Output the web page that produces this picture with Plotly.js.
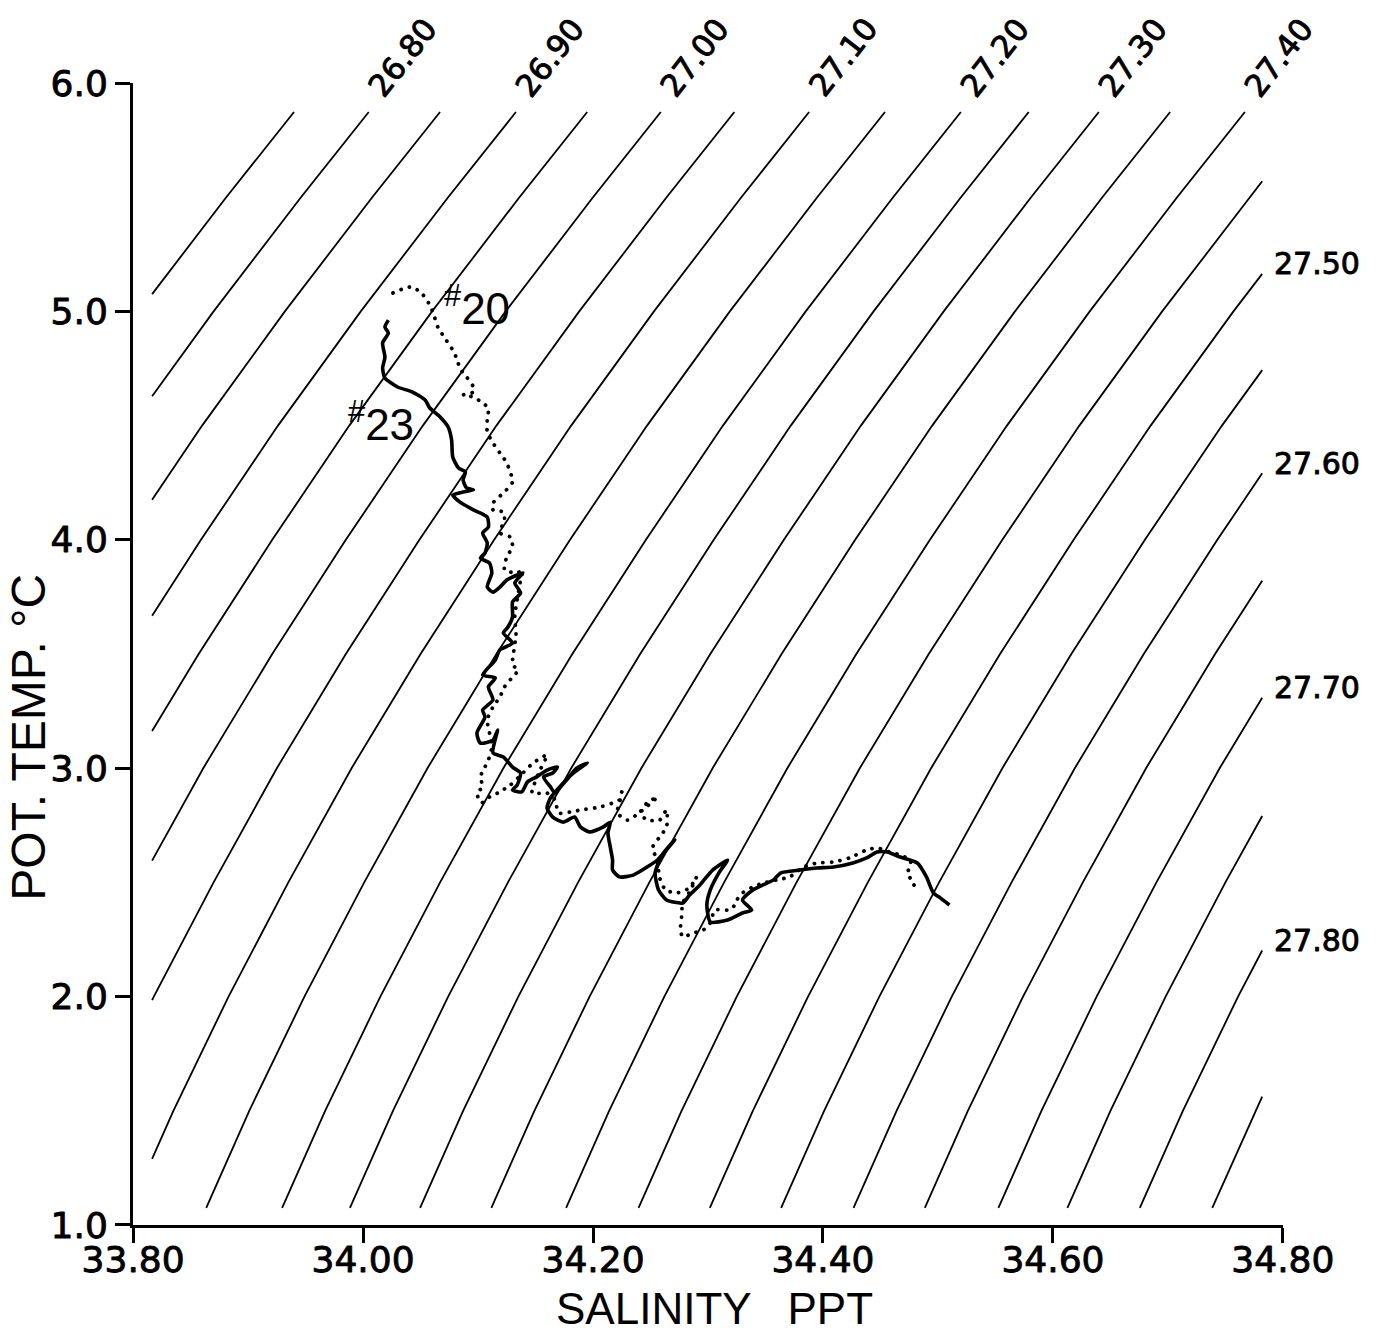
<!DOCTYPE html>
<html><head><meta charset="utf-8">
<script src="https://cdn.plot.ly/plotly-3.0.1.min.js"></script>
<style>html,body{margin:0;padding:0;background:#fff}</style>
</head><body>
<div id="chart" style="width:1382px;height:1343px"></div>
<script>
// ---------- axis ticks ----------
const salTicks = [33.8, 34.0, 34.2, 34.4, 34.6, 34.8];
const salTickText = ['33.80', '34.00', '34.20', '34.40', '34.60', '34.80'];
const tempTicks = [1, 2, 3, 4, 5, 6];
const tempTickText = ['1.0', '2.0', '3.0', '4.0', '5.0', '6.0'];

// ---------- isopycnals (sigma-theta) ----------
const isoSigma = [26.75, 26.80, 26.85, 26.90, 26.95, 27.00, 27.05, 27.10, 27.15, 27.20, 27.25, 27.30,
                  27.35, 27.40, 27.45, 27.50, 27.55, 27.60, 27.65, 27.70, 27.75, 27.80, 27.85];
// salinity where each isopycnal would cross 1.0 degC
const isoSalAt1C = [33.343, 33.408, 33.470, 33.536, 33.598, 33.662, 33.726, 33.791, 33.857, 33.923, 33.982, 34.043,
                    34.105, 34.170, 34.233, 34.295, 34.357, 34.420, 34.482, 34.546, 34.606, 34.669, 34.732];
// common curvature of the isopycnals: salinity offset along a line vs temperature
const isoShapeTemp = [1.0, 1.5, 2.0, 2.5, 3.0, 3.5, 4.0, 4.5, 5.0, 5.5, 6.0];
const isoShapeDSal = [0, 0.044, 0.092, 0.144, 0.199, 0.259, 0.323, 0.390, 0.462, 0.538, 0.617];
const isoTopLabels = ['26.80', '26.90', '27.00', '27.10', '27.20', '27.30', '27.40'];
const isoRightLabels = ['27.50', '27.60', '27.70', '27.80'];

// ---------- station #20 (dotted) ----------
const st20Sal = [34.026,34.041,34.050,34.057,34.061,34.065,34.071,34.078,34.082,34.084,
  34.090,34.096,34.096,34.087,34.096,34.104,34.109,34.108,34.108,34.113,
  34.119,34.125,34.130,34.122,34.113,34.113,34.122,34.123,34.119,34.128,
  34.130,34.125,34.123,34.134,34.139,34.137,34.134,34.132,34.133,34.131,
  34.130,34.135,34.130,34.123,34.119,34.113,34.108,34.110,34.112,34.109,
  34.106,34.102,34.104,34.099,34.103,34.110,34.117,34.128,34.139,34.148,
  34.160,34.154,34.147,34.160,34.167,34.170,34.180,34.189,34.206,34.223,
  34.225,34.223,34.221,34.230,34.241,34.256,34.247,34.241,34.247,34.258,
  34.264,34.264,34.258,34.252,34.256,34.258,34.263,34.273,34.284,34.290,
  34.284,34.278,34.277,34.276,34.278,34.287,34.296,34.302,34.306,34.317,
  34.322,34.325,34.330,34.339,34.348,34.360,34.371,34.383,34.395,34.409,
  34.423,34.438,34.447,34.458,34.467,34.476,34.476,34.473,34.477,34.480,34.483];
const st20Temp = [5.081,5.107,5.085,5.037,4.993,4.932,4.884,4.831,4.787,4.752,
  4.713,4.669,4.647,4.634,4.625,4.599,4.577,4.525,4.472,4.424,
  4.380,4.336,4.253,4.205,4.161,4.131,4.122,4.087,4.030,4.012,
  3.969,3.925,3.868,3.855,3.868,3.824,3.736,3.671,3.583,3.509,
  3.452,3.430,3.399,3.356,3.312,3.268,3.211,3.154,3.093,3.036,
  3.005,2.962,2.918,2.891,2.848,2.874,2.891,2.926,2.979,3.023,
  3.058,2.992,2.891,2.891,2.861,2.804,2.808,2.817,2.830,2.861,
  2.896,2.848,2.804,2.773,2.808,2.874,2.848,2.804,2.773,2.773,
  2.817,2.743,2.699,2.655,2.589,2.519,2.467,2.454,2.476,2.524,
  2.458,2.410,2.349,2.292,2.261,2.278,2.292,2.322,2.379,2.379,
  2.392,2.423,2.454,2.480,2.497,2.511,2.524,2.567,2.585,2.589,
  2.607,2.642,2.651,2.633,2.620,2.598,2.567,2.541,2.511,2.480,2.458];

// ---------- station #23 (solid) ----------
const st23Sal = [34.022,34.019,34.022,34.017,34.019,34.017,34.019,34.030,34.043,34.054,
  34.058,34.067,34.074,34.077,34.078,34.083,34.089,34.087,34.090,34.096,
  34.087,34.078,34.084,34.096,34.108,34.109,34.104,34.108,34.106,34.102,
  34.110,34.112,34.108,34.113,34.119,34.125,34.134,34.139,34.132,34.137,
  34.130,34.130,34.126,34.122,34.130,34.119,34.115,34.104,34.115,34.109,
  34.113,34.104,34.106,34.099,34.102,34.113,34.117,34.113,34.122,34.130,
  34.137,34.134,34.130,34.138,34.143,34.151,34.160,34.169,34.165,34.157,
  34.163,34.167,34.171,34.177,34.186,34.195,34.183,34.171,34.163,34.160,
  34.165,34.174,34.184,34.189,34.197,34.209,34.215,34.213,34.215,34.217,
  34.217,34.223,34.235,34.247,34.256,34.260,34.269,34.271,34.260,34.254,
  34.257,34.264,34.278,34.284,34.293,34.304,34.317,34.310,34.302,34.299,
  34.302,34.317,34.330,34.338,34.330,34.339,34.357,34.363,34.380,34.395,
  34.409,34.426,34.438,34.447,34.456,34.467,34.482,34.490,34.496,34.502,34.510];
const st23Temp = [4.962,4.932,4.905,4.862,4.800,4.752,4.708,4.669,4.647,4.612,
  4.577,4.538,4.494,4.437,4.363,4.314,4.297,4.262,4.227,4.218,
  4.209,4.196,4.166,4.131,4.100,4.056,4.030,3.986,3.942,3.920,
  3.898,3.855,3.793,3.771,3.793,3.824,3.846,3.855,3.811,3.767,
  3.728,3.662,3.618,3.592,3.548,3.518,3.474,3.408,3.395,3.356,
  3.299,3.255,3.224,3.154,3.110,3.123,3.167,3.067,3.049,3.005,
  2.979,2.926,2.905,2.896,2.940,2.962,2.992,3.005,2.979,2.962,
  2.918,2.891,2.913,2.948,3.001,3.023,2.979,2.918,2.870,2.826,
  2.786,2.764,2.786,2.743,2.721,2.743,2.764,2.716,2.655,2.598,
  2.554,2.524,2.532,2.567,2.598,2.620,2.673,2.686,2.620,2.541,
  2.467,2.423,2.410,2.445,2.489,2.554,2.598,2.546,2.467,2.401,
  2.327,2.335,2.366,2.379,2.423,2.467,2.511,2.541,2.554,2.563,
  2.567,2.585,2.607,2.633,2.633,2.611,2.585,2.524,2.454,2.432,2.401];

const stationNames = ['#20', '#23'];
const stationLabelSal = [34.099, 34.016];
const stationLabelTemp = [5.028, 4.520];

// ---------- build ----------
const FONT_TICK = 'DejaVu Sans, sans-serif';
const FONT_TEXT = 'Liberation Sans, Arial, sans-serif';
// drawing window of the isopycnal grid (inside the axes frame)
const box = {s0: 33.8165, s1: 34.782, t0: 1.075, t1: 5.873};

function clipSeg(x0, y0, x1, y1, b) {
  let u0 = 0, u1 = 1;
  const dx = x1 - x0, dy = y1 - y0;
  const p = [-dx, dx, -dy, dy];
  const q = [x0 - b.s0, b.s1 - x0, y0 - b.t0, b.t1 - y0];
  for (let i = 0; i < 4; i++) {
    if (p[i] === 0) { if (q[i] < 0) return null; }
    else {
      const r = q[i] / p[i];
      if (p[i] < 0) { if (r > u1) return null; if (r > u0) u0 = r; }
      else { if (r < u0) return null; if (r < u1) u1 = r; }
    }
  }
  return [[x0 + u0 * dx, y0 + u0 * dy], [x0 + u1 * dx, y0 + u1 * dy]];
}

const traces = [];
const annotations = [];
isoSigma.forEach((sig, k) => {
  const xs = [], ys = [];
  for (let i = 0; i < isoShapeTemp.length - 1; i++) {
    const c = clipSeg(isoSalAt1C[k] + isoShapeDSal[i], isoShapeTemp[i],
                      isoSalAt1C[k] + isoShapeDSal[i + 1], isoShapeTemp[i + 1], box);
    if (!c) continue;
    if (!xs.length) { xs.push(c[0][0]); ys.push(c[0][1]); }
    xs.push(c[1][0]); ys.push(c[1][1]);
  }
  traces.push({x: xs, y: ys, type: 'scatter', mode: 'lines', hoverinfo: 'skip',
    line: {color: '#000', width: 1.8}, showlegend: false});
  const lab = sig.toFixed(2);
  const ex = xs[xs.length - 1], ey = ys[ys.length - 1];
  if (isoTopLabels.includes(lab)) {
    annotations.push({x: ex, y: ey, xref: 'x', yref: 'y', text: lab, showarrow: false,
      textangle: -52, xshift: 34, yshift: 55,
      font: {family: FONT_TICK, size: 31, color: '#000'}});
  } else if (isoRightLabels.includes(lab)) {
    annotations.push({x: ex, y: ey, xref: 'x', yref: 'y', text: lab, showarrow: false,
      xanchor: 'left', yanchor: 'middle', xshift: 10, yshift: 10,
      font: {family: FONT_TICK, size: 30, color: '#000'}});
  }
});
const isoLabelCount = annotations.length;

traces.push({x: st20Sal, y: st20Temp, type: 'scatter', mode: 'lines', hoverinfo: 'skip', showlegend: false,
  line: {color: '#000', width: 3.8, dash: '0.1px,8.5px', shape: 'spline', smoothing: 0.6}});
traces.push({x: st23Sal, y: st23Temp, type: 'scatter', mode: 'lines', hoverinfo: 'skip', showlegend: false,
  line: {color: '#000', width: 3.6, shape: 'spline', smoothing: 0.6}});

stationNames.forEach((n, i) => {
  annotations.push({x: stationLabelSal[i], y: stationLabelTemp[i], xref: 'x', yref: 'y',
    text: '<sup>' + n.slice(0, 1) + '</sup>' + n.slice(1), showarrow: false,
    font: {family: FONT_TEXT, size: 44, color: '#000'}});
});

// axis titles
annotations.push({xref: 'paper', yref: 'paper', x: 0.506, y: -0.073, yanchor: 'middle',
  text: 'SALINITY   PPT', showarrow: false, font: {family: FONT_TEXT, size: 44, color: '#000'}});
annotations.push({xref: 'paper', yref: 'paper', x: -0.091, y: 0.427, xanchor: 'center', yanchor: 'middle',
  textangle: -90, text: 'POT. TEMP. °C', showarrow: false, font: {family: FONT_TEXT, size: 48, color: '#000'}});

const axisCommon = {showgrid: false, zeroline: false, showline: true, linecolor: '#000', linewidth: 3,
  ticks: 'outside', ticklen: 15, tickwidth: 3, tickcolor: '#000',
  tickfont: {family: FONT_TICK, size: 36, color: '#000'}, fixedrange: true};

const layout = {
  width: 1382, height: 1343,
  margin: {l: 133, r: 99, t: 83, b: 118},
  paper_bgcolor: '#fff', plot_bgcolor: '#fff',
  font: {family: FONT_TICK, color: '#000'},
  showlegend: false,
  xaxis: Object.assign({}, axisCommon, {range: [33.7999, 34.8001], tickmode: 'array',
    tickvals: salTicks, ticktext: salTickText, ticklabelstandoff: -14}),
  yaxis: Object.assign({}, axisCommon, {range: [0.9999, 6.0001], tickmode: 'array',
    tickvals: tempTicks, ticktext: tempTickText}),
  annotations: annotations
};

Plotly.newPlot('chart', traces, layout, {staticPlot: true, displayModeBar: false}).then(gd => {
  const groups = gd.querySelectorAll('.scatterlayer .trace');
  const dotted = groups[isoSigma.length];
  if (dotted) {
    dotted.querySelectorAll('path.js-line').forEach(p => {
      p.style.strokeLinecap = 'round';
      p.style.strokeDasharray = '0.1px,8.5px';
    });
  }
  // medium-weight look for numeric labels
  const embolden = el => { el.style.stroke = '#000'; el.style.strokeWidth = '0.9px'; el.style.strokeLinejoin = 'round'; };
  gd.querySelectorAll('.xtick text, .ytick text').forEach(embolden);
  const ann = gd.querySelectorAll('.annotation');
  ann.forEach((a, i) => { if (i < isoLabelCount) a.querySelectorAll('text').forEach(embolden); });
});
</script>
</body></html>
